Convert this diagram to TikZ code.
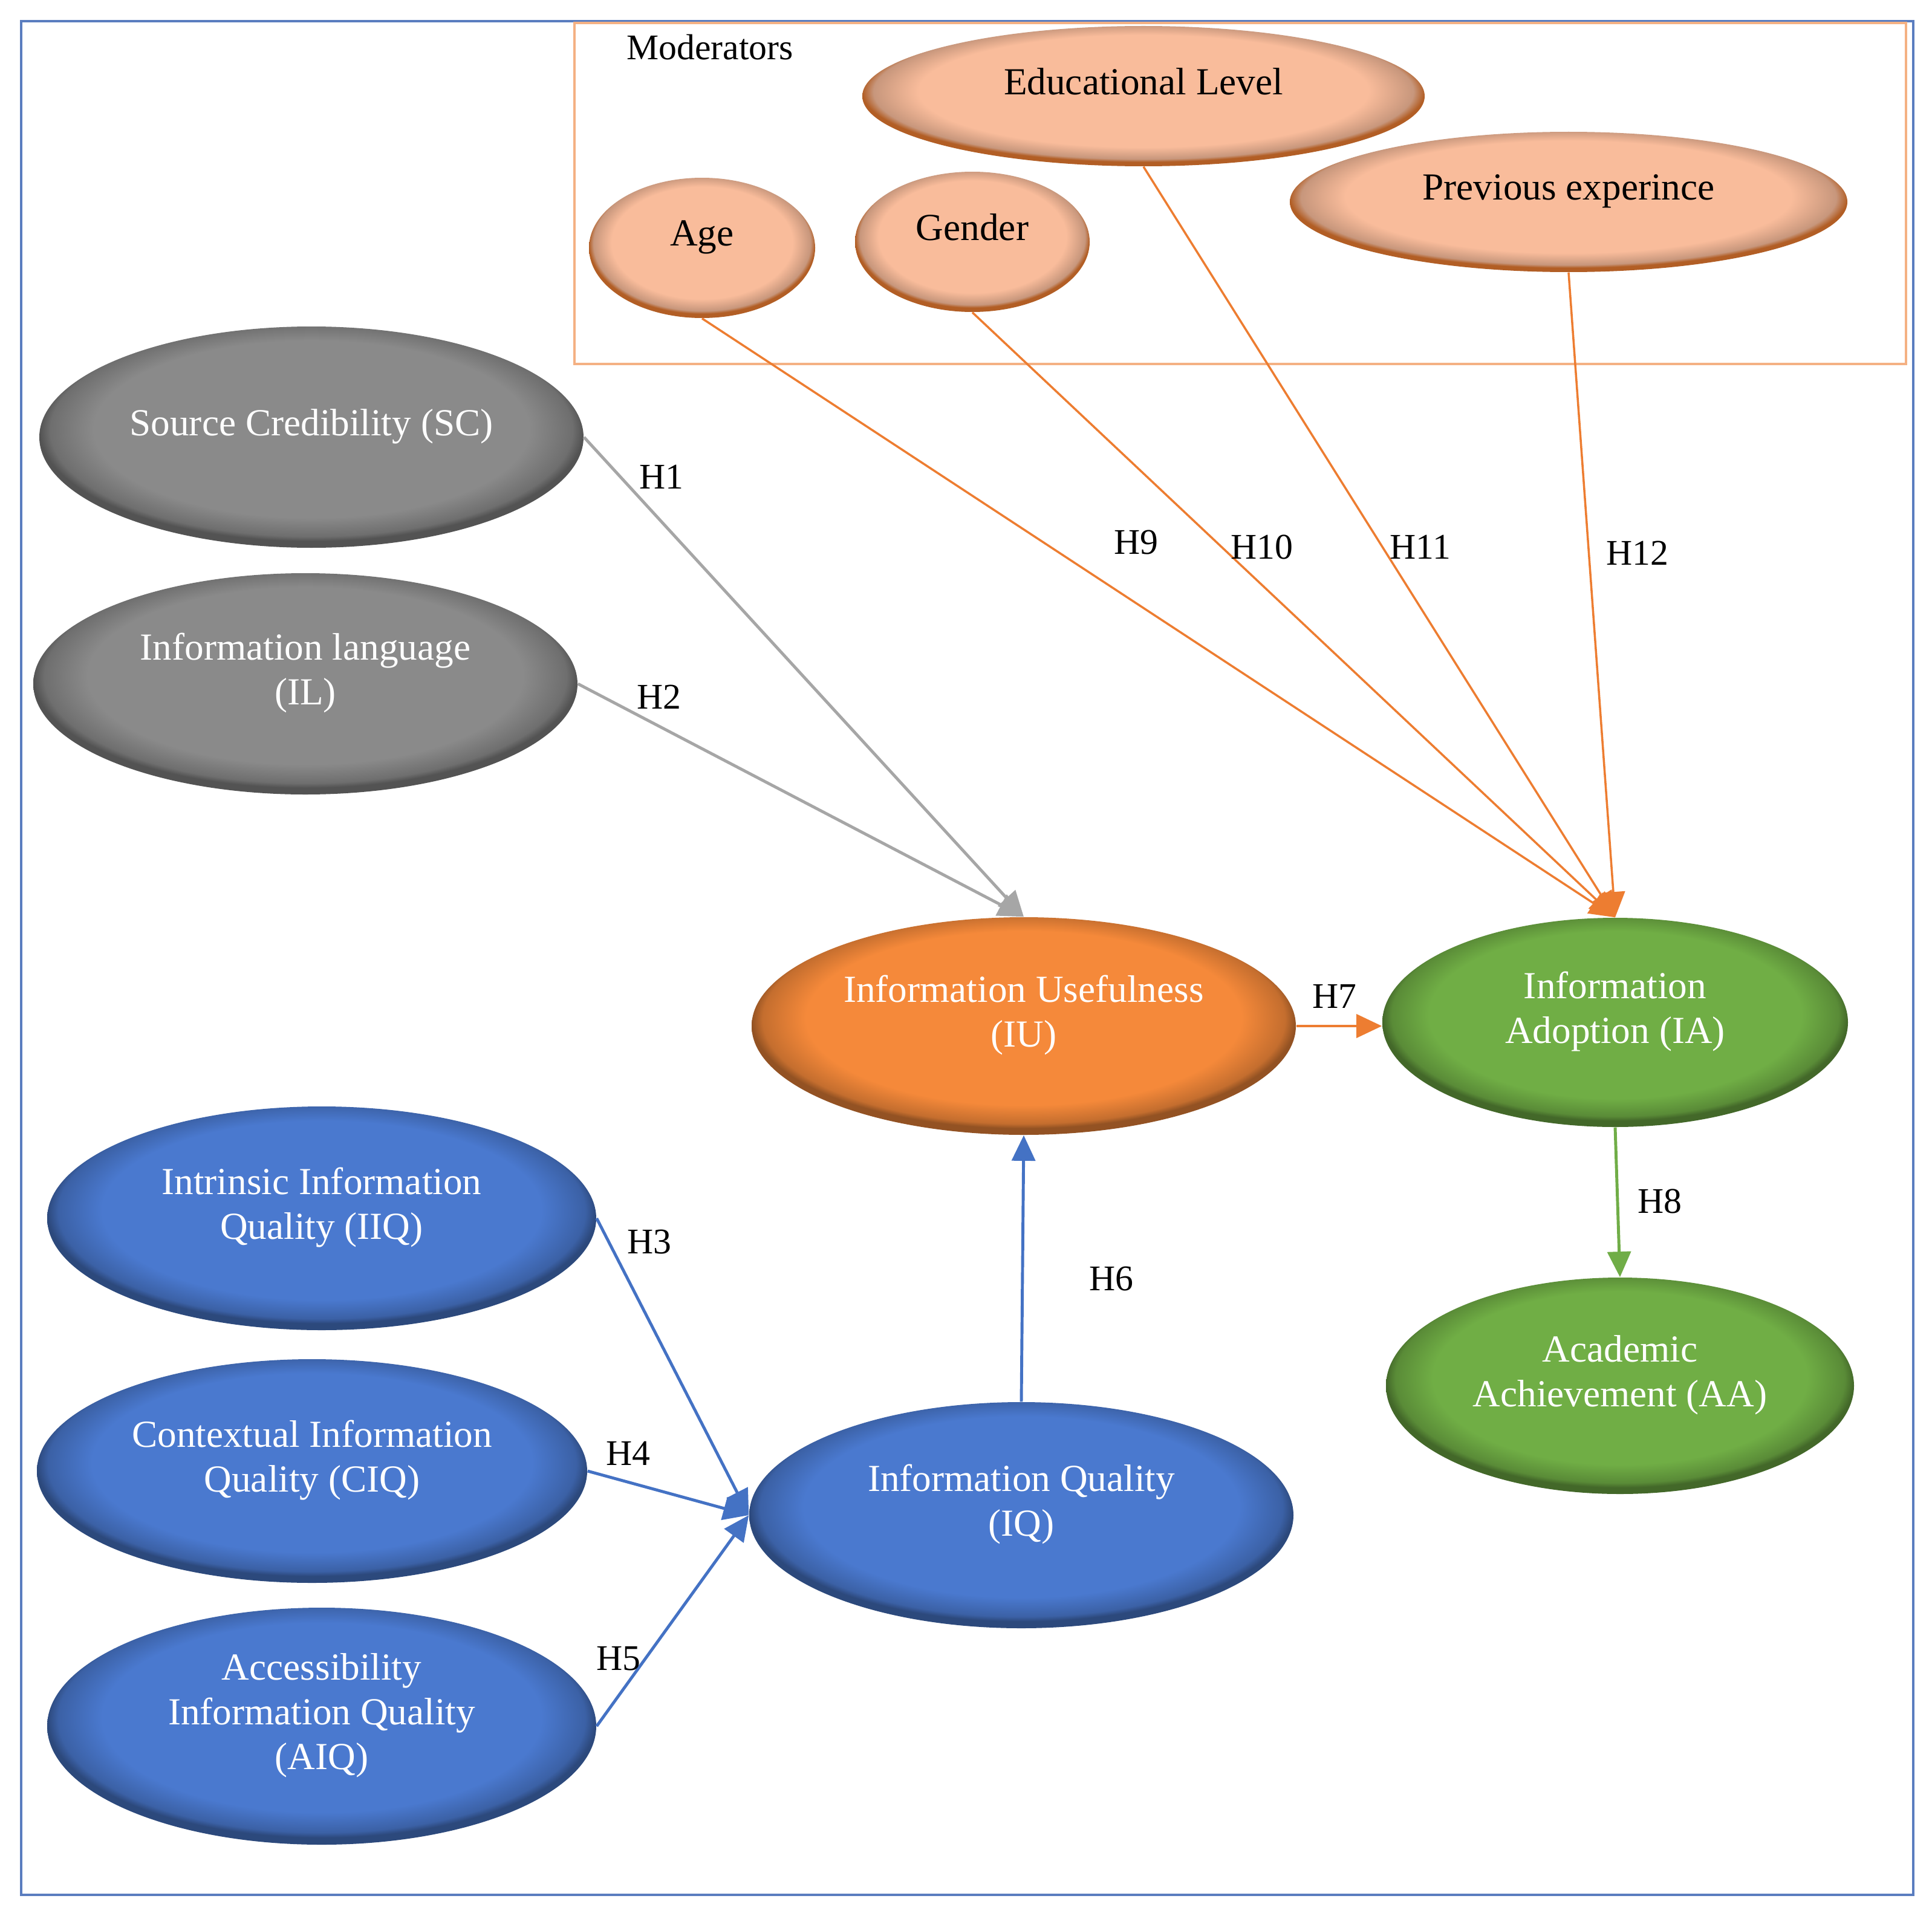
\documentclass[tikz,border=0pt]{standalone}
\usepackage{fontspec}
\setmainfont{Liberation Serif}
\usetikzlibrary{shapes,arrows.meta,positioning}

\definecolor{grayfill}{HTML}{8A8A8A}
\definecolor{peachfill}{HTML}{F9BC9B}
\definecolor{usefill}{HTML}{F5893A}
\definecolor{leaffill}{HTML}{70AE45}
\definecolor{skyfill}{HTML}{4A79CF}
\definecolor{framecol}{HTML}{5A7DBF}
\definecolor{modcol}{HTML}{F4B183}
\definecolor{grayline}{HTML}{A6A6A6}
\definecolor{blueline}{HTML}{4472C4}
\definecolor{orangeline}{HTML}{ED7D31}
\definecolor{greenline}{HTML}{70AD47}

\pgfdeclareradialshading{grayball}{\pgfpoint{0bp}{3bp}}{color(0bp)=(grayfill); color(20bp)=(grayfill); color(24bp)=(grayfill!80!black); color(25bp)=(grayfill!60!black); color(50bp)=(grayfill!60!black)}
\pgfdeclareradialshading{peachball}{\pgfpoint{0bp}{3bp}}{color(0bp)=(peachfill); color(20bp)=(peachfill); color(24bp)=(peachfill!80!black); color(25bp)=(orangeline!75!black); color(50bp)=(orangeline!75!black)}
\pgfdeclareradialshading{useball}{\pgfpoint{0bp}{3bp}}{color(0bp)=(usefill); color(20bp)=(usefill); color(24bp)=(usefill!80!black); color(25bp)=(usefill!60!black); color(50bp)=(usefill!60!black)}
\pgfdeclareradialshading{leafball}{\pgfpoint{0bp}{3bp}}{color(0bp)=(leaffill); color(20bp)=(leaffill); color(24bp)=(leaffill!80!black); color(25bp)=(leaffill!60!black); color(50bp)=(leaffill!60!black)}
\pgfdeclareradialshading{skyball}{\pgfpoint{0bp}{3bp}}{color(0bp)=(skyfill); color(20bp)=(skyfill); color(24bp)=(skyfill!80!black); color(25bp)=(skyfill!60!black); color(50bp)=(skyfill!60!black)}

\tikzstyle{construct} = [ellipse, inner sep=0pt, align=center, text=white,
font=\fontsize{18}{21}\selectfont, text depth=14pt]
\tikzstyle{moderator} = [construct, text=black, shading=peachball, minimum height=2.32cm]
\tikzstyle{hyp} = [font=\fontsize{17}{20}\selectfont]
\tikzstyle{line} = [draw, line width=1.4pt, -{Triangle[length=12pt,width=11pt]}]

\begin{document}
\begin{tikzpicture}[x=1cm, y=-1cm]
    \useasboundingbox (0,0) rectangle (31.95,31.64);
    % frames
    \draw [framecol, line width=1.4pt] (0.35,0.35) rectangle (31.64,31.34);
    \draw [modcol, line width=1pt] (9.50,0.38) rectangle (31.52,6.02);
    \node [hyp, text=black] (modlabel) at (11.74,0.78) {Moderators};

    % moderators
    \node [moderator, minimum width=9.30cm] (edu) at (18.91,1.59) {Educational Level};
    \node [moderator, minimum width=9.22cm] (prev) at (25.94,3.34) {Previous experince};
    \node [moderator, minimum width=3.74cm] (age) at (11.61,4.10) {Age};
    \node [moderator, minimum width=3.88cm] (gender) at (16.08,4.00) {Gender};

    % constructs
    \node [construct, shading=grayball, minimum width=9.00cm, minimum height=3.66cm] (sc) at (5.15,7.23) {Source Credibility (SC)};
    \node [construct, shading=grayball, minimum width=9.00cm, minimum height=3.66cm] (il) at (5.05,11.31) {Information language\\(IL)};
    \node [construct, shading=useball, minimum width=9.00cm, minimum height=3.60cm] (iu) at (16.93,16.97) {Information Usefulness\\(IU)};
    \node [construct, shading=leafball, minimum width=7.70cm, minimum height=3.46cm] (ia) at (26.71,16.91) {Information\\Adoption (IA)};
    \node [construct, shading=leafball, minimum width=7.74cm, minimum height=3.58cm] (aa) at (26.79,22.92) {Academic\\Achievement (AA)};
    \node [construct, shading=skyball, minimum width=9.08cm, minimum height=3.70cm] (iiq) at (5.32,20.15) {Intrinsic Information\\Quality (IIQ)};
    \node [construct, shading=skyball, minimum width=9.10cm, minimum height=3.70cm] (ciq) at (5.16,24.33) {Contextual Information\\Quality (CIQ)};
    \node [construct, shading=skyball, minimum width=9.00cm, minimum height=3.74cm] (iq) at (16.89,25.06) {Information Quality\\(IQ)};
    \node [construct, shading=skyball, minimum width=9.08cm, minimum height=3.92cm] (aiq) at (5.32,28.55) {Accessibility\\Information Quality\\(AIQ)};

    % edges
    \path [line, grayline] (sc.east) -- (iu.north);
    \path [line, grayline] (il.east) -- (iu.north);
    \path [line, blueline] (iiq.east) -- (iq.west);
    \path [line, blueline] (ciq.east) -- (iq.west);
    \path [line, blueline] (aiq.east) -- (iq.west);
    \path [line, blueline] (iq.north) -- (iu.south);
    \path [line, orangeline] (iu.east) -- (iu.east -| ia.west);
    \path [line, greenline] (ia.south) -- (aa.north);
    \path [line, orangeline, line width=1pt] (age.south) -- (ia.north);
    \path [line, orangeline, line width=1pt] (gender.south) -- (ia.north);
    \path [line, orangeline, line width=1pt] (edu.south) -- (ia.north);
    \path [line, orangeline, line width=1pt] (prev.south) -- (ia.north);

    % hypotheses
    \node [hyp] (h1) at (10.94,7.89) {H1};
    \node [hyp] (h2) at (10.90,11.53) {H2};
    \node [hyp] (h3) at (10.74,20.54) {H3};
    \node [hyp] (h4) at (10.39,24.04) {H4};
    \node [hyp] (h5) at (10.23,27.43) {H5};
    \node [hyp] (h6) at (18.38,21.15) {H6};
    \node [hyp] (h7) at (22.07,16.48) {H7};
    \node [hyp] (h8) at (27.45,19.87) {H8};
    \node [hyp] (h9) at (18.79,8.97) {H9};
    \node [hyp] (h10) at (20.87,9.05) {H10};
    \node [hyp] (h11) at (23.49,9.05) {H11};
    \node [hyp] (h12) at (27.08,9.15) {H12};
\end{tikzpicture}
\end{document}
